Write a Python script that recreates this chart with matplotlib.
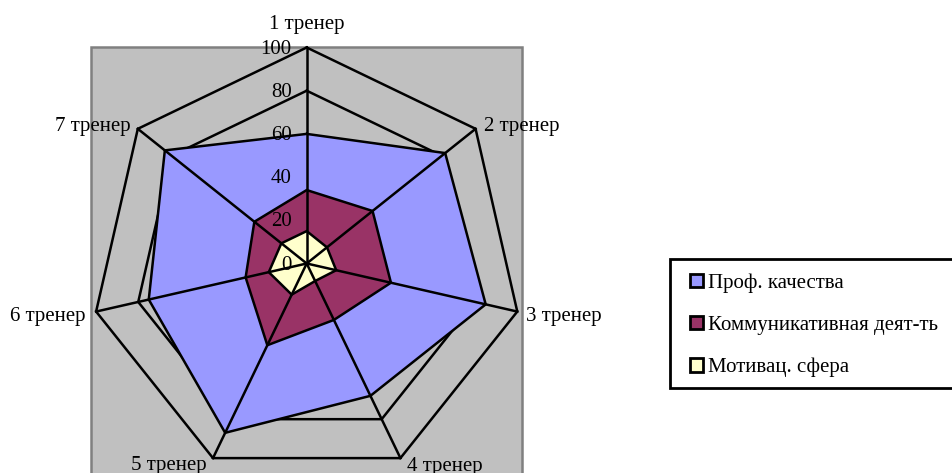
import numpy as np
import matplotlib
matplotlib.use("Agg")
import matplotlib.pyplot as plt
from matplotlib.patches import Patch, Rectangle

plt.rcParams["font.family"] = ["Liberation Serif", "DejaVu Serif"]

# Оценки тренеров (в процентах)
trainers = ["1 тренер", "2 тренер", "3 тренер", "4 тренер", "5 тренер", "6 тренер", "7 тренер"]
prof = [60, 82, 85, 68, 87, 75, 84]
komm = [34, 39, 40, 29, 42, 29, 31]
motiv = [15, 12, 14, 9, 16, 18, 15]
levels = [0, 20, 40, 60, 80, 100]

series_names = ["Проф. качества", "Коммуникативная деят-ть", "Мотивац. сфера"]
series_colors = ["#9999FF", "#993366", "#FFFFCC"]

W, H = 952, 473
FS = 15
LW = 1.8
fig = plt.figure(figsize=(W / 100, H / 100), dpi=100)
fig.patch.set_facecolor("white")

# серая подложка области построения
bg = Rectangle((91 / W, -0.05), (522 - 91) / W, (H - 47) / H + 0.05,
               transform=fig.transFigure, facecolor="#C0C0C0",
               edgecolor="#808080", linewidth=1.8, zorder=0)
fig.add_artist(bg)

cx, cy, R = 306.7, H - 263.5, 216
ax = fig.add_axes([(cx - R) / W, (cy - R) / H, 2 * R / W, 2 * R / H],
                  projection="polar")
ax.set_theta_zero_location("N")
ax.set_theta_direction(-1)
ax.set_ylim(0, 100)
ax.set_axis_off()

n = len(trainers)
theta = 2 * np.pi * np.arange(n) / n
theta_c = np.append(theta, theta[0])

# кольца сетки (многоугольники)
for lv in levels[1:]:
    ax.plot(theta_c, [lv] * (n + 1), color="black", lw=LW, zorder=1,
            clip_on=False, solid_joinstyle="miter")

for vals, col in zip([prof, komm, motiv], series_colors):
    v = np.append(vals, vals[0])
    ax.fill(theta_c, v, facecolor=col, edgecolor="black", lw=LW, zorder=2,
            clip_on=False, joinstyle="miter")

# оси от центра
for t in theta:
    ax.plot([t, t], [0, 100], color="black", lw=LW, zorder=3, clip_on=False)

# подписи шкалы
for lv in levels:
    ax.annotate(str(lv), xy=(0, lv), xytext=(-15, -6), textcoords="offset pixels",
                ha="right", va="baseline", fontsize=FS, zorder=4)

# подписи тренеров
offsets = [(0, 19, "center"), (8, -2.5, "left"), (9, -9, "left"),
           (6.5, -13, "left"), (-6.5, -12, "right"), (-11, -9, "right"),
           (-7, -2.6, "right")]
for t, name, (dx, dy, ha) in zip(theta, trainers, offsets):
    ax.annotate(name, xy=(t, 100), xytext=(dx, dy), textcoords="offset pixels",
                ha=ha, va="baseline", fontsize=FS, annotation_clip=False)

# рамка легенды
frame = Rectangle((669.5 / W, (H - 387.5) / H), (W + 20 - 669.5) / W, 128.5 / H,
                  transform=fig.transFigure, facecolor="white",
                  edgecolor="black", linewidth=2, zorder=1)
fig.add_artist(frame)

handles = [Patch(facecolor=c, edgecolor="black", lw=2) for c in series_colors]
leg = fig.legend(handles, series_names, loc="upper left",
                 bbox_to_anchor=(690 / W, (H - 273.5) / H), fontsize=FS,
                 frameon=False, handlelength=0.62, handleheight=0.62,
                 handletextpad=0.25, labelspacing=1.1, borderpad=0,
                 borderaxespad=0)
leg.set_zorder(2)

fig.savefig("out.png", dpi=100)
